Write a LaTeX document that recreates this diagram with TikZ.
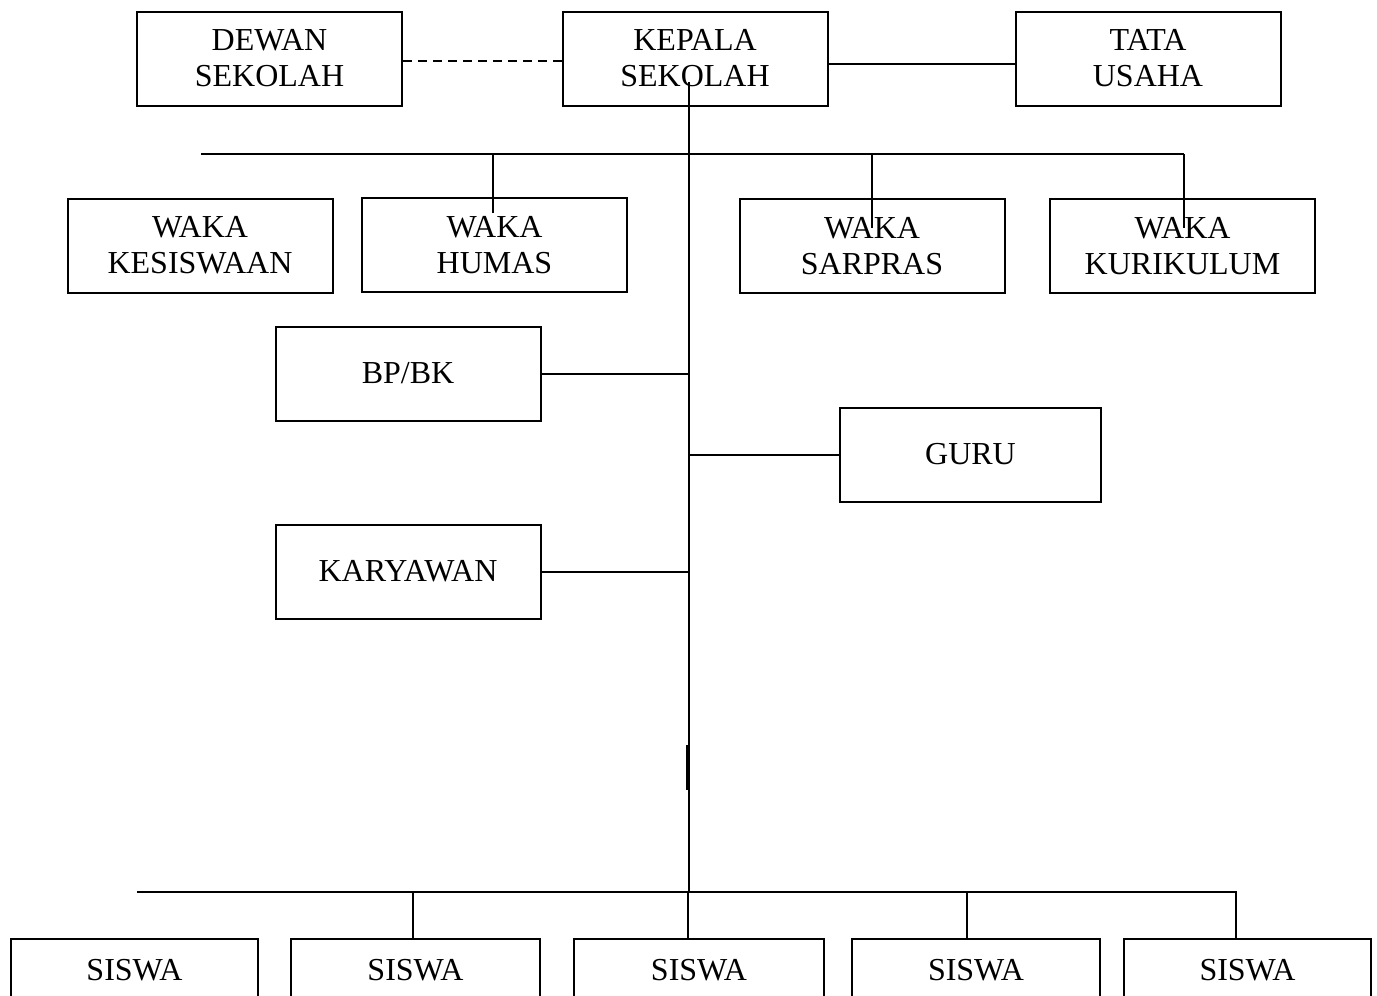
\documentclass[tikz,border=0pt]{standalone}
\usepackage{fontspec}
\setmainfont{Liberation Serif}
\usetikzlibrary{calc}
\tikzset{
	unit/.style={draw, line width=2pt, minimum width=265pt, minimum height=94pt, inner sep=0pt, align=center, font=\fontsize{32}{36}\selectfont},
	siswa/.style={unit, minimum height=62pt},
	link/.style={line width=2pt},
}

\begin{document}
\begin{tikzpicture}[x=1pt,y=-1pt]
				\clip (0,0) rectangle (1377,996);
				
				\node[unit] (dewan) at (269.5,58.5) {DEWAN\\SEKOLAH};
				\node[unit] (kepala) at (695,58.5) {KEPALA\\SEKOLAH};
				\node[unit] (tata) at (1148,58.5) {TATA\\USAHA};
				\draw[link, dashed, dash pattern=on 9pt off 6pt] ([yshift=-2.5pt]dewan.east) -- ([yshift=-2.5pt]kepala.west);
				\draw[link] ([yshift=-5pt]kepala.east) -- ([yshift=-5pt]tata.west);
				
				\coordinate (trunkTop) at (689,82);
				\coordinate (trunkBot) at (689,892);
				\draw[link] (trunkTop) -- (trunkBot);
				\draw[line width=1.5pt] (687,745) -- (687,790);
				
				\node[unit] (kesiswaan) at (200,245.5) {WAKA\\KESISWAAN};
				\node[unit] (humas) at (494.5,245) {WAKA\\HUMAS};
				\node[unit] (sarpras) at (872,246) {WAKA\\SARPRAS};
				\node[unit] (kurikulum) at (1182.5,246) {WAKA\\KURIKULUM};
				
				\coordinate (wakaL) at (201,154);
				\coordinate (wakaR) at (1184,154);
				\draw[link] (wakaL) -- (wakaR);
				\coordinate (humasIn) at (493,213);
				\coordinate (sarprasIn) at (872,228);
				\coordinate (kurikulumIn) at (1184,228);
				\draw[link] (humasIn |- wakaL) -- (humasIn);
				\draw[link] (sarprasIn |- wakaL) -- (sarprasIn);
				\draw[link] (kurikulumIn |- wakaL) -- (kurikulumIn);
				
				\node[unit] (bpbk) at (408,373.5) {BP/BK};
				\node[unit, minimum width=261pt] (guru) at (970.5,454.5) {GURU};
				\node[unit] (karyawan) at (408,571.5) {KARYAWAN};
				\draw[link] (bpbk.east) -- (bpbk.east -| trunkTop);
				\draw[link] (guru.west) -- (guru.west -| trunkTop);
				\draw[link] (karyawan.east) -- (karyawan.east -| trunkTop);
				
				\node[siswa, minimum width=247pt] (s1) at (134.5,970) {SISWA};
				\node[siswa, minimum width=249pt] (s2) at (415.5,970) {SISWA};
				\node[siswa, minimum width=250pt] (s3) at (699,970) {SISWA};
				\node[siswa, minimum width=248pt] (s4) at (976,970) {SISWA};
				\node[siswa, minimum width=247pt] (s5) at (1247.5,970) {SISWA};
				
				\coordinate (siswaL) at (137,892);
				\coordinate (siswaR) at (1237,892);
				\draw[link] (siswaL) -- (siswaR);
				\foreach \x/\s in {413/s2, 688/s3, 967/s4, 1236/s5}
					\draw[link] (\x,892) -- (\s.north -| \x,892);
			\end{tikzpicture}
\end{document}
